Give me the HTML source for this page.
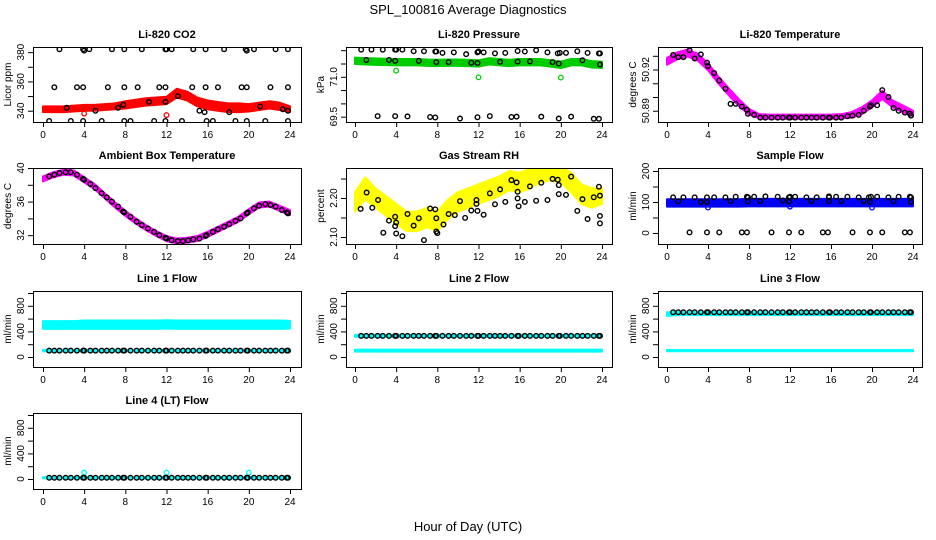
<!DOCTYPE html>
<html><head><meta charset="utf-8"><style>
html,body{margin:0;padding:0;background:#fff}
svg{display:block;font-family:"Liberation Sans",sans-serif}
</style></head><body>
<svg id="chart" width="936" height="540" viewBox="0 0 936 540">
<text x="468" y="14" text-anchor="middle" font-size="13">SPL_100816  Average Diagnostics</text>
<text x="468" y="531" text-anchor="middle" font-size="13">Hour of Day (UTC)</text>
</svg>
<script>
// ---- shared data ----
const xTicks = [0,4,8,12,16,20,24];
const bandHours = [0,1,2,3,4,5,6,7,8,9,10,11,12,13,14,15,16,17,18,19,20,21,22,23,24];
const ptHours = [0.6,1.1,1.6,2.2,2.7,3.3,3.9,4.0,4.6,5.1,5.7,6.2,6.7,7.3,7.8,7.9,8.5,9.1,9.6,10.2,10.8,11.3,11.9,12.0,12.5,13.1,13.6,14.1,14.6,15.2,15.8,15.9,16.5,17.0,17.6,18.1,18.7,19.2,19.8,19.9,20.5,21.0,21.6,22.1,22.6,23.2,23.7,23.8];

// CO2
const co2Center = [341,341,341,341.5,342,342,342.5,343,344,345,346,346.5,347,352,350,346,344,343,342,342,342,343,344,343,341];
const co2Half = [2,2,2,2,2,2,2,2,2.5,2.5,2.5,2.5,2.5,3,3,3,3,3,3,3,2.5,2.5,2.5,2.5,2];
const co2PtX = [1.6,3.9,4.0,4.5,6.7,7.9,9.6,11.9,12.0,12.5,14.6,15.8,17.6,19.7,19.8,20.5,22.6,23.8, 1.1,3.3,3.9,6.3,7.9,9.2,11.3,11.9,14.5,15.8,17.0,19.3,19.8,22.1,23.8, 0.6,2.7,3.9,5.7,7.9,8.5,10.8,11.9,13.5,15.9,16.5,18.7,19.8,21.6,23.8, 2.3,5.1,7.3,7.8,10.3,11.9,13.1,15.2,15.7,18.1,21.1,23.3,23.8];
const co2PtY = [382,382,381,382,382,382,382,382,382,382,382,382,382,382,381,382,382,382, 356,356,356,356,356,356,356,356,356,356,356,356,356,356,356, 333,333,333,333,333,333,333,333,333,333,333,333,333,333,333, 342,340,342,344,346,346,350,340,339,339,343,341,340];
const co2OutX = [4,12];
const co2OutY = [338,337];

// Pressure
const presCenter = [71.6,71.58,71.57,71.56,71.55,71.55,71.55,71.53,71.52,71.53,71.53,71.52,71.5,71.58,71.55,71.52,71.55,71.55,71.55,71.5,71.45,71.55,71.55,71.47,71.45];
const presHalf = [0.12,0.12,0.12,0.12,0.12,0.12,0.12,0.12,0.12,0.12,0.12,0.12,0.12,0.12,0.12,0.12,0.12,0.12,0.12,0.12,0.12,0.12,0.12,0.12,0.12];
const presPtX = [0.6,1.6,2.7,3.9,4.0,4.6,5.7,6.7,7.8,7.9,8.5,9.6,10.8,11.9,12.0,12.5,13.6,14.6,15.8,16.5,17.6,18.7,19.7,19.9,20.5,21.6,22.6,23.7,23.8, 1.1,3.3,3.9,6.2,7.9,9.1,11.3,11.9,14.1,15.8,17.0,19.2,19.8,22.1,23.8, 2.2,3.9,5.1,7.3,7.8,10.2,11.9,13.1,15.2,15.7,18.1,19.8,21.0,23.2,23.7];
const presPtY = [72.02,72.02,72.02,72.02,72.02,72.02,71.96,71.96,71.95,71.95,71.9,71.92,71.85,71.92,71.95,71.92,71.88,71.9,71.97,71.95,72.0,71.92,71.88,71.9,71.9,71.96,71.9,71.88,71.88, 71.63,71.63,71.6,71.6,71.55,71.55,71.53,71.52,71.56,71.57,71.58,71.55,71.5,71.62,71.46, 69.52,69.52,69.51,69.49,69.47,69.43,69.48,69.52,69.49,69.5,69.5,69.43,69.5,69.42,69.42];
const presOutX = [4,12,20];
const presOutY = [71.23,70.98,70.97];

// Li-820 temperature
const tempCenter = [50.926,50.930,50.932,50.929,50.922,50.9125,50.904,50.896,50.8893,50.886,50.8857,50.8857,50.8857,50.8857,50.8857,50.8857,50.8857,50.886,50.887,50.890,50.895,50.9016,50.895,50.8914,50.888];
const tempHalf = [0.0025,0.0025,0.0025,0.0025,0.0025,0.0025,0.0025,0.0025,0.002,0.0015,0.0015,0.0015,0.0015,0.0015,0.0015,0.0015,0.0015,0.0015,0.002,0.0025,0.0025,0.003,0.0025,0.0025,0.002];
const tempPtY = [50.9306,50.929,50.929,50.934,50.928,50.931,50.925,50.9226,50.9175,50.912,50.906,50.895,50.895,50.893,50.8907,50.8878,50.887,50.885,50.885,50.885,50.885,50.885,50.885,50.885,50.885,50.885,50.885,50.885,50.885,50.885,50.885,50.885,50.885,50.885,50.886,50.8864,50.887,50.890,50.893,50.894,50.894,50.905,50.900,50.892,50.890,50.8886,50.8878,50.8864];

// Ambient box temperature
const ambCenter = [38.7,39.2,39.5,39.4,38.6,37.8,36.7,35.6,34.6,33.7,32.9,32.2,31.6,31.3,31.4,31.6,32.1,32.7,33.3,33.9,34.8,35.6,35.7,35.2,34.7];
const ambHalf = [0.3,0.3,0.3,0.3,0.3,0.3,0.3,0.3,0.3,0.3,0.3,0.3,0.3,0.3,0.3,0.3,0.3,0.3,0.3,0.3,0.3,0.3,0.3,0.3,0.3];
const ambPtY = [39.0,39.2,39.4,39.5,39.5,39.2,38.7,38.6,38.1,37.6,37.0,36.5,36.0,35.4,34.8,34.7,34.2,33.6,33.2,32.8,32.4,32.0,31.7,31.6,31.4,31.3,31.3,31.4,31.5,31.6,31.9,32.0,32.4,32.7,33.0,33.3,33.7,34.0,34.6,34.7,35.2,35.5,35.7,35.6,35.4,35.0,34.7,34.6];

// Gas stream RH
const rhCenter = [2.19,2.225,2.20,2.18,2.16,2.14,2.14,2.15,2.14,2.17,2.19,2.20,2.21,2.22,2.23,2.245,2.24,2.25,2.26,2.265,2.26,2.24,2.21,2.20,2.205];
const rhHalf = [0.025,0.028,0.025,0.025,0.025,0.025,0.025,0.025,0.025,0.025,0.025,0.025,0.025,0.025,0.025,0.025,0.025,0.025,0.02,0.02,0.02,0.025,0.025,0.025,0.02];
const rhPtX = [0.55,1.13,1.68,2.24,2.75,3.3,3.9,3.9,4.0,4.0,4.6,5.1,5.7,6.2,6.7,7.3,7.8,7.9,7.9,8.0,8.6,9.1,9.7,10.2,10.7,11.3,11.8,11.8,11.9,12.5,13.1,13.6,14.1,14.6,15.2,15.7,15.8,15.8,15.9,16.5,17.0,17.6,18.1,18.7,19.2,19.7,19.8,19.8,20.5,21.0,21.6,22.1,22.6,23.2,23.7,23.8,23.8,23.8];
const rhPtY = [2.172,2.214,2.175,2.195,2.111,2.142,2.152,2.128,2.137,2.109,2.102,2.159,2.129,2.148,2.092,2.173,2.171,2.148,2.114,2.110,2.132,2.159,2.156,2.192,2.149,2.168,2.195,2.185,2.167,2.157,2.212,2.184,2.222,2.190,2.246,2.240,2.216,2.199,2.179,2.190,2.230,2.193,2.239,2.195,2.249,2.247,2.233,2.210,2.208,2.255,2.167,2.197,2.146,2.202,2.229,2.206,2.154,2.135];

// Sample flow
const sfCenter = [97,97,97,97,97,97,97,97,98,98,98,98,98,98,98,98,98,98,98,98,98,98,98,98,98];
const sfHalf = [12,12,12,12,12,12,12,12,12,12,12,12,12,12,12,12,12,12,12,12,12,12,12,12,12];
const sfPtX = [0.6,1.6,2.7,3.9,4.6,5.7,6.7,7.8,7.9,8.5,9.6,10.8,11.9,12.0,12.5,13.6,14.6,15.8,15.8,16.5,17.6,18.7,19.7,19.9,20.5,21.6,22.6,23.7,23.8, 1.1,3.3,3.9,6.2,7.9,9.1,11.3,11.9,14.1,15.8,17.0,19.2,19.8,22.1,23.8, 2.2,3.9,5.1,7.3,7.8,10.2,11.9,13.1,15.2,15.7,18.1,19.8,21.0,23.2,23.7];
const sfPtY = [115,115,115,115,115,115,117,117,115,117,118,117,115,117,117,115,115,118,115,117,117,115,115,117,117,115,117,117,115, 102,100,100,103,102,103,105,102,103,103,103,103,100,103,100, 2,2,2,2,2,2,2,2,2,2,2,2,2,2,2];
const sfOutX = [4,12,20];
const sfOutY = [82,85,82];

// Line flows (black points share ptHours)
const l1Upper = [500,500,500,500,505,505,505,505,505,505,505,505,510,505,505,505,505,505,505,505,505,505,505,505,505];
const l1UpperHalf = [60,60,60,60,65,65,65,65,65,65,65,65,65,65,65,65,65,65,65,65,65,65,65,65,60];
const l1Lower = [100,100,100,100,100,100,100,100,100,100,100,100,100,100,100,100,100,100,100,100,100,100,100,100,100];
const l1LowerHalf = [12,12,12,12,12,12,12,12,12,12,12,12,12,12,12,12,12,12,12,12,12,12,12,12,12];
const l1Black = [100,100,100,100,100,100,100,100,100,100,100,100,100,100,100,100,100,100,100,100,100,100,100,100,100,100,100,100,100,100,100,100,100,100,100,100,100,100,100,100,100,100,100,100,100,100,100,100];
const l2Upper = [330,330,330,330,330,330,330,330,330,330,330,330,330,330,330,330,330,330,330,330,330,330,330,330,330];
const l2UpperHalf = [15,15,15,15,15,15,15,15,15,15,15,15,15,15,15,15,15,15,15,15,15,15,15,15,15];
const l2Lower = [100,100,100,100,100,100,100,100,100,100,100,100,100,100,100,100,100,100,100,100,100,100,100,100,100];
const l2LowerHalf = [15,15,15,15,15,15,15,15,15,15,15,15,15,15,15,15,15,15,15,15,15,15,15,15,15];
const l2Black = [330,330,330,330,330,330,330,330,330,330,330,330,330,330,330,330,330,330,330,330,330,330,330,330,330,330,330,330,330,330,330,330,330,330,330,330,330,330,330,330,330,330,330,330,330,330,330,330];
const l3Upper = [670,680,680,680,680,680,680,680,680,680,680,680,680,680,680,680,680,680,680,680,680,680,680,680,680];
const l3UpperHalf = [30,25,25,25,25,25,25,25,25,25,25,25,25,25,25,25,25,25,25,25,25,25,25,25,25];
const l3Lower = [100,100,100,100,100,100,100,100,100,100,100,100,100,100,100,100,100,100,100,100,100,100,100,100,100];
const l3LowerHalf = [10,10,10,10,10,10,10,10,10,10,10,10,10,10,10,10,10,10,10,10,10,10,10,10,10];
const l3Black = [700,700,700,700,700,700,700,700,700,700,700,700,700,700,700,700,700,700,700,700,700,700,700,700,700,700,700,700,700,700,700,700,700,700,700,700,700,700,700,700,700,700,700,700,700,700,700,700];
const l4Band = [20,20,20,20,20,20,20,20,20,20,20,20,20,20,20,20,20,20,20,20,20,20,20,20,20];
const l4Half = [10,10,10,10,10,10,10,10,10,10,10,10,10,10,10,10,10,10,10,10,10,10,10,10,10];
const l4Black = [20,20,20,20,20,20,20,20,20,20,20,20,20,20,20,20,20,20,20,20,20,20,20,20,20,20,20,20,20,20,20,20,20,20,20,20,20,20,20,20,20,20,20,20,20,20,20,20];
const l4OutX = [4,12,20];
const l4OutY = [100,100,100];

const NS = "http://www.w3.org/2000/svg";
const svg = document.getElementById('chart');
const cols = [{L:33,R:301,x0:43,x24:290},{L:346,R:612,x0:355,x24:602},{L:658,R:922,x0:667,x24:913}];
const rows = [{T:47,B:122},{T:168,B:244},{T:291,B:367},{T:413,B:489}];

function mk(tag, attrs, parent){
  const e = document.createElementNS(NS, tag);
  for (const k in attrs) e.setAttribute(k, attrs[k]);
  parent.appendChild(e);
  return e;
}

function panel(o){
  const c = cols[o.col], r = rows[o.row];
  const g = mk('g', {}, svg);
  
  
  const xs = h => c.x0 + (h/24)*(c.x24 - c.x0);
  const ys = v => r.B - (v - o.ymin)/(o.ymax - o.ymin)*(r.B - r.T);
  const clipId = 'clip-' + o.name;
  const cp = mk('clipPath', {id: clipId}, g);
  mk('rect', {x:c.L, y:r.T, width:c.R-c.L, height:r.B-r.T}, cp);
  const plot = mk('g', {'clip-path':'url(#'+clipId+')'}, g);
  
  
  (o.bands||[]).forEach((b, bi) => {
    let pts = [];
    bandHours.forEach((h,i) => pts.push(xs(h)+','+ys(b.c[i]+b.w[i])));
    for (let i = bandHours.length-1; i >= 0; i--) pts.push(xs(bandHours[i])+','+ys(b.c[i]-b.w[i]));
    const p = mk('polygon', {points: pts.join(' '), fill: b.color, stroke: b.color, 'stroke-width': 2, 'stroke-linejoin':'round'}, plot);
    
    
  });
  (o.outs||[]).forEach(s => {
    s.x.forEach((h,i) => {
      const ci = mk('circle', {cx: xs(h), cy: ys(s.y[i]), r: 2.3, fill:'none', stroke:s.color, 'stroke-width':1.3}, plot);
      
      
    });
  });
  if (o.px) o.px.forEach((h,i) => {
    const ci = mk('circle', {cx: xs(h), cy: ys(o.py[i]), r: 2.3, fill:'none', stroke:'#000', 'stroke-width':1.4}, plot);
    
    
  });
  const box = mk('rect', {x:c.L+0.5, y:r.T+0.5, width:c.R-c.L, height:r.B-r.T, fill:'none', stroke:'#000', 'stroke-width':1}, g);
  
  
  const t = mk('text', {x:(c.L+c.R)/2, y:r.T-9, 'text-anchor':'middle', 'font-size':11, 'font-weight':'bold'}, g);
  t.textContent = o.title;
  
  
  const xa = mk('g', {}, g);
  
  
  mk('line', {x1:xs(0), x2:xs(24), y1:r.B+0.5, y2:r.B+0.5, stroke:'#000'}, xa);
  xTicks.forEach(v => {
    mk('line', {x1:xs(v)+0.5, x2:xs(v)+0.5, y1:r.B, y2:r.B+5, stroke:'#000'}, xa);
    const tl = mk('text', {x:xs(v), y:r.B+16, 'text-anchor':'middle', 'font-size':10}, xa);
    tl.textContent = v;
    
    
  });
  const ya = mk('g', {}, g);
  
  
  mk('line', {x1:c.L+0.5, x2:c.L+0.5, y1:ys(o.yt[0]), y2:ys(o.yt[o.yt.length-1]), stroke:'#000'}, ya);
  o.yt.forEach(v => {
    mk('line', {x1:c.L-5, x2:c.L, y1:ys(v)+0.5, y2:ys(v)+0.5, stroke:'#000'}, ya);
  });
  o.yl.forEach((v,i) => {
    const x = c.L - 9, y = ys(v);
    const tl = mk('text', {x:x, y:y, 'text-anchor':'middle', 'font-size':10, transform:'rotate(-90 '+x+' '+y+')'}, ya);
    tl.textContent = o.ylt[i];
    
    
  });
  const ax = c.L - 22, ay = (r.T + r.B)/2;
  const yt = mk('text', {x:ax, y:ay, 'text-anchor':'middle', 'font-size':10, transform:'rotate(-90 '+ax+' '+ay+')'}, ya);
  yt.textContent = o.ylab;
  
  
}

panel({name:'co2-panel', col:0, row:0, title:'Li-820 CO2', ylab:'Licor ppm', ymin:332.3, ymax:383.5,
  yt:[340,350,360,370,380], yl:[340,360,380], ylt:['340','360','380'],
  bands:[{c:co2Center, w:co2Half, color:'#ff0000'}], outs:[{x:co2OutX, y:co2OutY, color:'#ff0000'}],
  px:co2PtX, py:co2PtY});
panel({name:'pressure-panel', col:1, row:0, title:'Li-820 Pressure', ylab:'kPa', ymin:69.3, ymax:72.12,
  yt:[69.5,70,70.5,71,71.5,72], yl:[69.5,71], ylt:['69.5','71.0'],
  bands:[{c:presCenter, w:presHalf, color:'#00cc00'}], outs:[{x:presOutX, y:presOutY, color:'#00cc00'}],
  px:presPtX, py:presPtY});
panel({name:'li820-temperature-panel', col:2, row:0, title:'Li-820 Temperature', ylab:'degrees C', ymin:50.8818, ymax:50.9364,
  yt:[50.89,50.9,50.91,50.92,50.93], yl:[50.89,50.92], ylt:['50.89','50.92'],
  bands:[{c:tempCenter, w:tempHalf, color:'#ff00ff'}], px:ptHours, py:tempPtY});
panel({name:'ambient-temperature-panel', col:0, row:1, title:'Ambient Box Temperature', ylab:'degrees C', ymin:30.95, ymax:40,
  yt:[32,34,36,38,40], yl:[32,36,40], ylt:['32','36','40'],
  bands:[{c:ambCenter, w:ambHalf, color:'#ff00ff'}], px:ptHours, py:ambPtY});
panel({name:'gas-rh-panel', col:1, row:1, title:'Gas Stream RH', ylab:'percent', ymin:2.082, ymax:2.277,
  yt:[2.10,2.15,2.20,2.25], yl:[2.10,2.20], ylt:['2.10','2.20'],
  bands:[{c:rhCenter, w:rhHalf, color:'#ffff00'}], px:rhPtX, py:rhPtY});
panel({name:'sample-flow-panel', col:2, row:1, title:'Sample Flow', ylab:'ml/min', ymin:-35.5, ymax:209.7,
  yt:[0,50,100,150,200], yl:[0,100,200], ylt:['0','100','200'],
  bands:[{c:sfCenter, w:sfHalf, color:'#0000ff'}], outs:[{x:sfOutX, y:sfOutY, color:'#0000ff'}],
  px:sfPtX, py:sfPtY});
const flowTicks = [0,200,400,600,800,1000];
panel({name:'line1-flow-panel', col:0, row:2, title:'Line 1 Flow', ylab:'ml/min', ymin:-156, ymax:1031,
  yt:flowTicks, yl:[0,400,800], ylt:['0','400','800'],
  bands:[{c:l1Upper, w:l1UpperHalf, color:'#00ffff'},{c:l1Lower, w:l1LowerHalf, color:'#00ffff'}], px:ptHours, py:l1Black});
panel({name:'line2-flow-panel', col:1, row:2, title:'Line 2 Flow', ylab:'ml/min', ymin:-156, ymax:1031,
  yt:flowTicks, yl:[0,400,800], ylt:['0','400','800'],
  bands:[{c:l2Upper, w:l2UpperHalf, color:'#00ffff'},{c:l2Lower, w:l2LowerHalf, color:'#00ffff'}], px:ptHours, py:l2Black});
panel({name:'line3-flow-panel', col:2, row:2, title:'Line 3 Flow', ylab:'ml/min', ymin:-156, ymax:1031,
  yt:flowTicks, yl:[0,400,800], ylt:['0','400','800'],
  bands:[{c:l3Upper, w:l3UpperHalf, color:'#00ffff'},{c:l3Lower, w:l3LowerHalf, color:'#00ffff'}], px:ptHours, py:l3Black});
panel({name:'line4-flow-panel', col:0, row:3, title:'Line 4 (LT) Flow', ylab:'ml/min', ymin:-156, ymax:1031,
  yt:flowTicks, yl:[0,400,800], ylt:['0','400','800'],
  bands:[{c:l4Band, w:l4Half, color:'#00ffff'}], outs:[{x:l4OutX, y:l4OutY, color:'#00ffff'}], px:ptHours, py:l4Black});
</script>
</body></html>
